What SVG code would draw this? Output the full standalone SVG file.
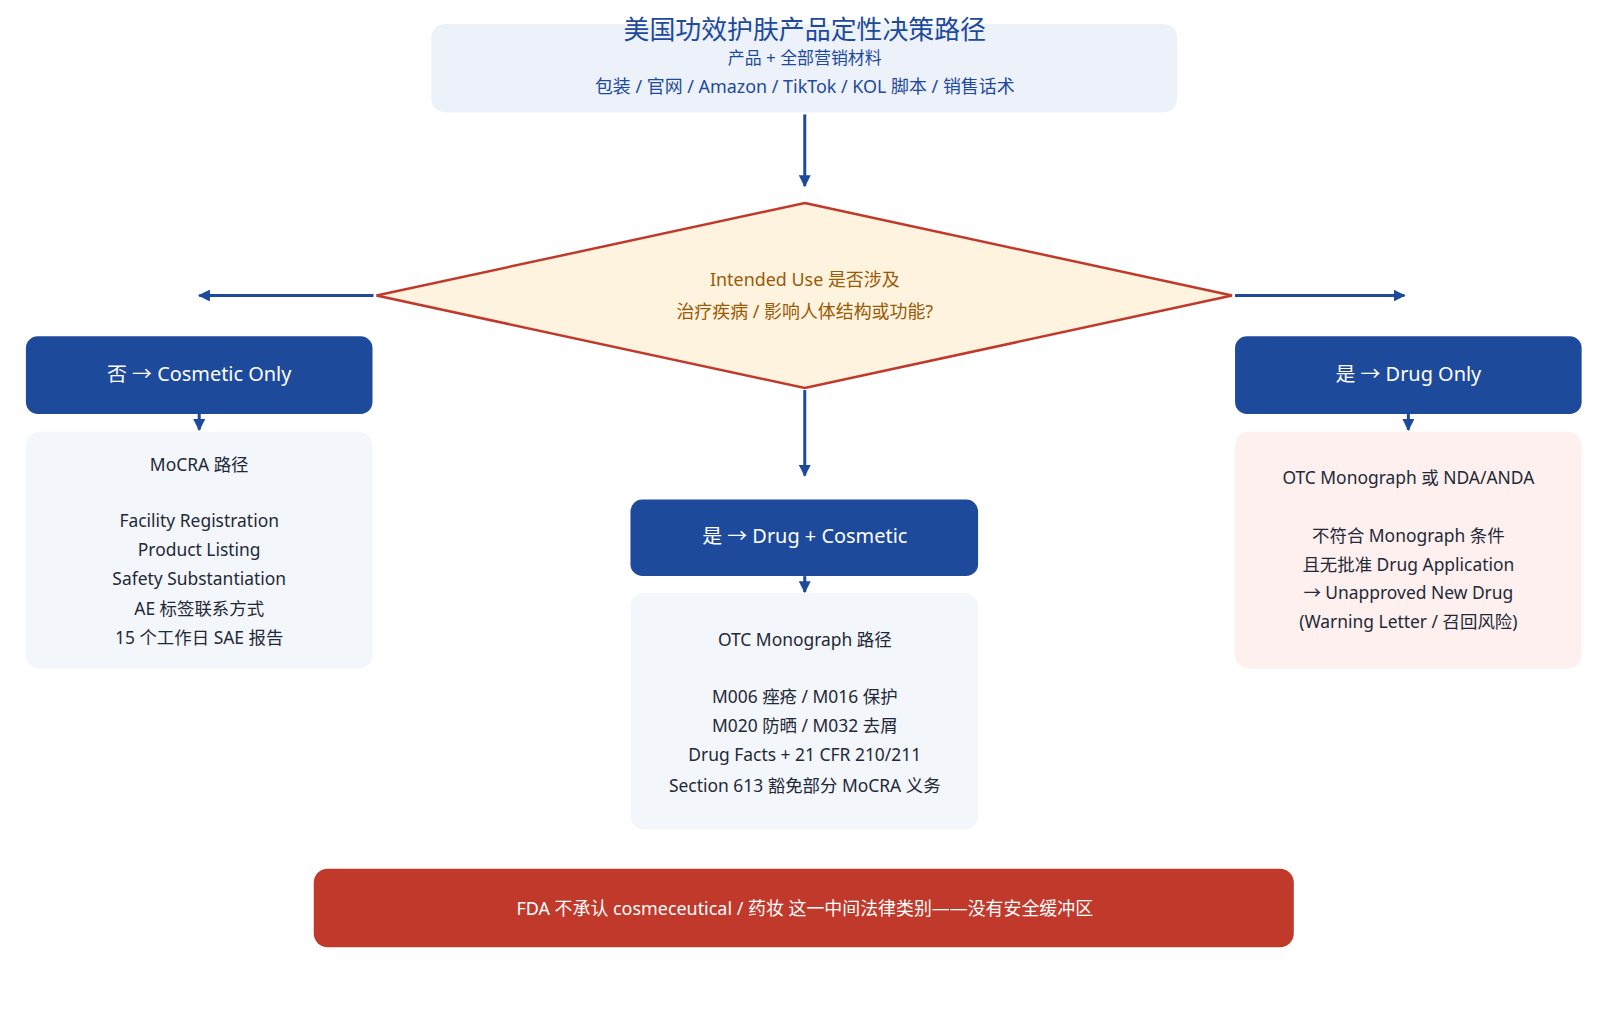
<svg xmlns="http://www.w3.org/2000/svg" width="1608" height="1020" viewBox="0 0 1608 1020">
<style>
text{font-family:"Noto Sans","Noto Sans CJK SC",sans-serif;text-anchor:middle;dominant-baseline:central}
.b{font-size:17.5px;fill:#1f2937}
.w{font-size:20px;fill:#fff}
.blue{fill:#1e4a9c}
.line{stroke:#1e4a9c;stroke-width:3;fill:none;marker-end:url(#ah)}
</style>
<defs><marker id="ah" viewBox="0 0 10 10" refX="9" refY="5" markerWidth="4" markerHeight="4" orient="auto"><path d="M0,0L10,5L0,10z" fill="#1e4a9c"/></marker></defs>
<rect width="1608" height="1020" fill="#fff"/>
<g transform="scale(0.996,0.995)">
<g id="connectors">
<path class="line" d="M808,115V187"/>
<path class="line" d="M375,297H200"/>
<path class="line" d="M1240,297H1410"/>
<path class="line" d="M808,392V478"/>
<path class="line" d="M200,416V432"/>
<path class="line" d="M808,579V595"/>
<path class="line" d="M1414,416V432"/>
</g>
<g id="top"><rect x="433" y="24" width="749" height="89" rx="14" fill="#edf2fa"/>
<text x="808" y="29" font-size="26" fill="#1e4a9c">美国功效护肤产品定性决策路径</text>
<text x="808" y="58" font-size="17" fill="#1e4a9c">产品 + 全部营销材料</text>
<text x="808" y="86" font-size="18" fill="#1e4a9c">包装 / 官网 / Amazon / TikTok / KOL 脚本 / 销售话术</text></g>
<g id="decision"><polygon points="808,204 1237,297 808,390 378,297" fill="#fef3df" stroke="#c0392b" stroke-width="2.5"/>
<text x="808" y="280" font-size="18" fill="#9a5a06">Intended Use 是否涉及</text>
<text x="808" y="313" font-size="18" fill="#9a5a06">治疗疾病 / 影响人体结构或功能?</text></g>
<g id="cosmetic"><rect class="blue" x="26" y="338" width="348" height="78" rx="12"/><text class="w" x="200" y="375">否 → Cosmetic Only</text></g>
<g id="mocra"><rect x="26" y="434" width="348" height="238" rx="14" fill="#f3f6fb"/>
<text class="b" x="200" y="466">MoCRA 路径</text>
<text class="b" x="200" y="523">Facility Registration</text>
<text class="b" x="200" y="552">Product Listing</text>
<text class="b" x="200" y="581">Safety Substantiation</text>
<text class="b" x="200" y="611">AE 标签联系方式</text>
<text class="b" x="200" y="640">15 个工作日 SAE 报告</text></g>
<g id="both"><rect class="blue" x="633" y="502" width="349" height="77" rx="12"/><text class="w" x="808" y="538">是 → Drug + Cosmetic</text></g>
<g id="otc"><rect x="633" y="596" width="349" height="238" rx="14" fill="#f3f6fb"/>
<text class="b" x="808" y="642">OTC Monograph 路径</text>
<text class="b" x="808" y="700">M006 痤疮 / M016 保护</text>
<text class="b" x="808" y="729">M020 防晒 / M032 去屑</text>
<text class="b" x="808" y="758">Drug Facts + 21 CFR 210/211</text>
<text class="b" x="808" y="789">Section 613 豁免部分 MoCRA 义务</text></g>
<g id="drug"><rect class="blue" x="1240" y="338" width="348" height="78" rx="12"/><text class="w" x="1414" y="375">是 → Drug Only</text></g>
<g id="nda"><rect x="1240" y="434" width="348" height="238" rx="14" fill="#fdf0ee"/>
<text class="b" x="1414" y="479">OTC Monograph 或 NDA/ANDA</text>
<text class="b" x="1414" y="538">不符合 Monograph 条件</text>
<text class="b" x="1414" y="567">且无批准 Drug Application</text>
<text class="b" x="1414" y="595">→ Unapproved New Drug</text>
<text class="b" x="1414" y="624">(Warning Letter / 召回风险)</text></g>
<g id="note"><rect x="315" y="873" width="984" height="79" rx="14" fill="#c0392b"/>
<text x="808" y="913" font-size="18" fill="#fff">FDA 不承认 cosmeceutical / 药妆 这一中间法律类别——没有安全缓冲区</text></g>
</g>
</svg>
